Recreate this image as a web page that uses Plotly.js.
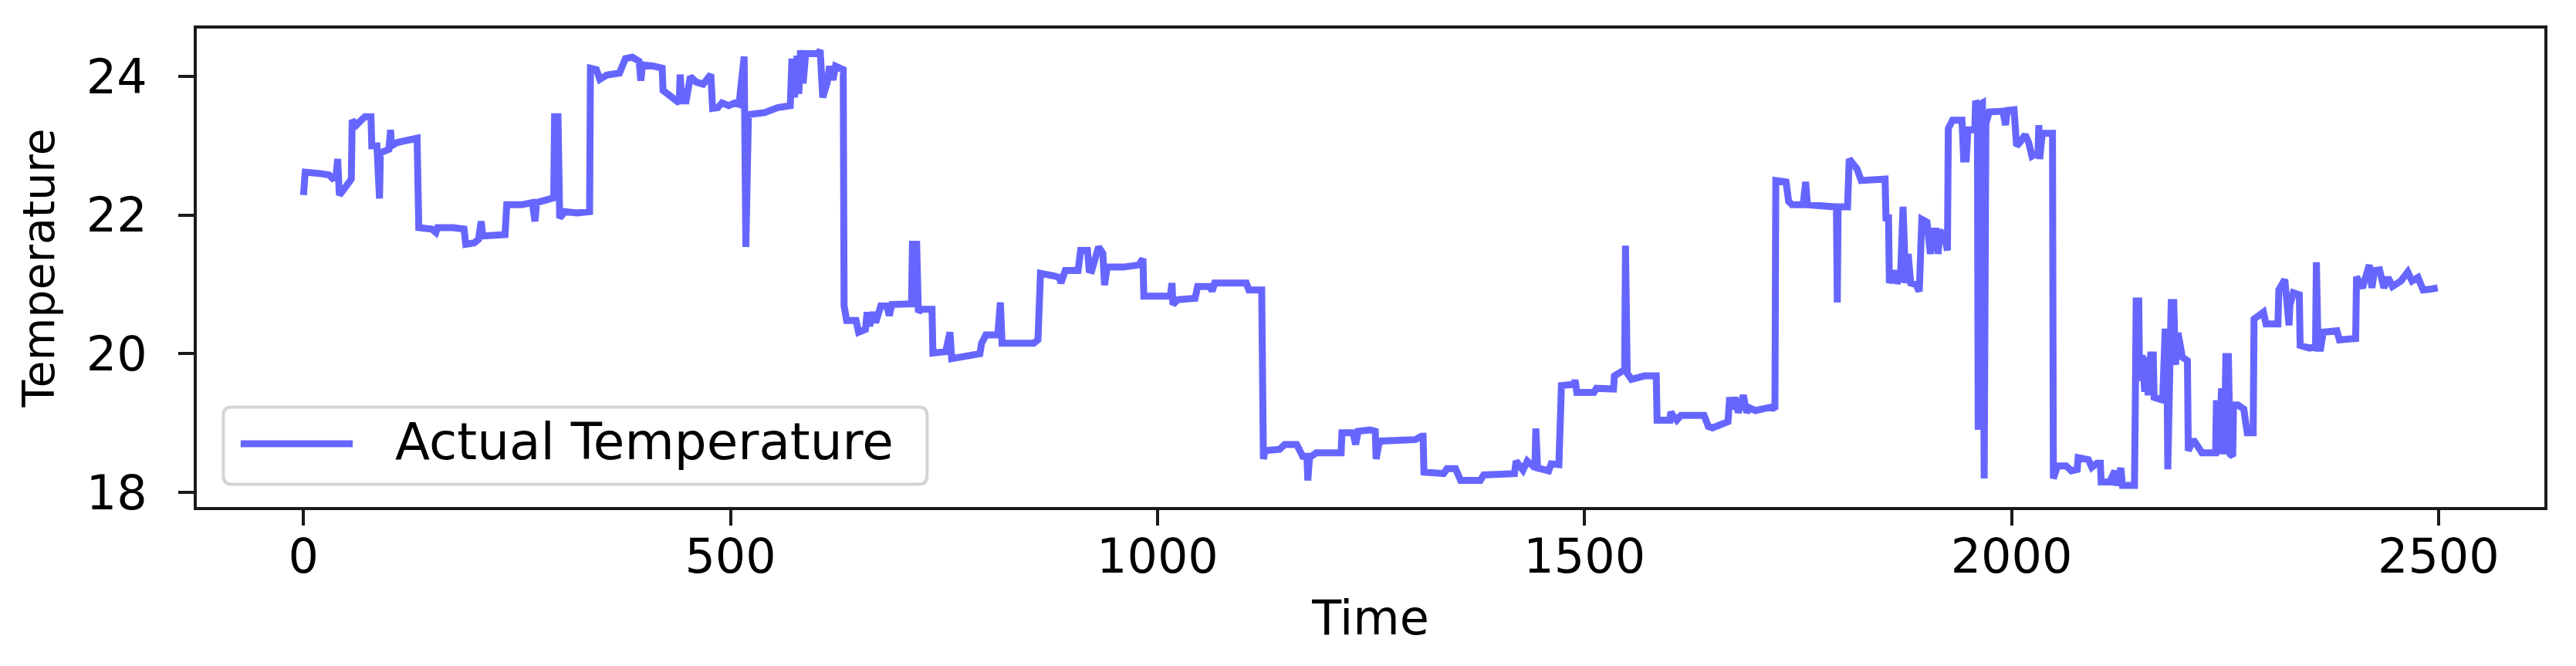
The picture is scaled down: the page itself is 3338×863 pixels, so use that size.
<!DOCTYPE html>
<html>
<head>
<meta charset="utf-8">
<script src="https://cdn.plot.ly/plotly-3.0.1.min.js"></script>
<style>
  html, body { margin: 0; padding: 0; background: #fff; }
</style>
</head>
<body>
<div id="chart"></div>
<script>
// values
const time = [
  0, 2, 20, 30, 34, 38, 40, 42, 46, 52, 56, 57, 62, 66, 72, 79, 80, 86, 87, 89, 90, 100, 102, 103, 110, 125, 133,
  135, 150, 155, 157, 175, 188, 190, 200, 205, 208, 210, 225, 236, 238, 255, 268, 271, 273, 285, 293, 294, 298, 300, 306, 320, 335,
  336, 343, 347, 355, 370, 377, 385, 393, 395, 397, 410, 420, 421, 430, 435, 440, 441, 443, 448, 453, 460, 468, 477, 479, 485, 490, 498,
  505, 510, 516, 518, 521, 540, 555, 570, 572, 575, 578, 580, 582, 585, 588, 602, 605, 608, 613, 616, 620, 623, 627, 632,
  633, 636, 647, 650, 658, 660, 663, 667, 670, 673, 676, 683, 686, 689, 712, 713, 718, 720, 723, 736, 737, 752, 755, 757, 759, 775, 792,
  794, 799, 813, 816, 818, 855, 860, 863, 880, 885, 887, 892, 907, 910, 918, 920, 923, 931, 936, 938, 941, 960, 978, 981, 983,
  984, 1015, 1017, 1018, 1024, 1044, 1047, 1062, 1064, 1067, 1104, 1107, 1122,
  1124, 1126, 1143, 1149, 1163, 1170, 1175, 1176, 1178, 1186, 1215, 1216, 1229, 1232, 1235, 1249, 1255, 1256, 1259, 1262, 1302, 1309, 1311,
  1312, 1335, 1339, 1349, 1355, 1378, 1382, 1418, 1420, 1428, 1433, 1442, 1443, 1445, 1458, 1461, 1470, 1471,
  1473, 1488, 1489, 1491, 1511, 1514, 1534, 1535, 1547, 1548, 1550, 1555, 1570, 1584,
  1585, 1600, 1601, 1604, 1608, 1613, 1640, 1645, 1650, 1668, 1670, 1673, 1676, 1680, 1686, 1690, 1693, 1700, 1719, 1723,
  1724, 1736, 1739, 1743, 1756, 1759, 1761, 1792, 1795, 1796, 1797, 1808, 1810, 1819, 1824, 1852, 1853, 1856,
  1857, 1862, 1866, 1870, 1873, 1876, 1879, 1882, 1888, 1892, 1895, 1901, 1905, 1908, 1912, 1914, 1916, 1921, 1925,
  1926, 1931, 1942, 1944, 1947, 1949, 1957, 1958, 1960, 1961, 1963, 1966, 1968, 1970, 1974, 1990, 1993, 1995, 2003,
  2006, 2010, 2016, 2020, 2024, 2031, 2032, 2033, 2036, 2048,
  2049, 2054, 2064, 2070, 2077, 2078, 2090, 2094, 2100, 2104, 2105, 2115, 2119, 2121, 2122, 2128, 2130, 2144,
  2145, 2146, 2149, 2150, 2153, 2156, 2158, 2160, 2163, 2166, 2167, 2177, 2180, 2182, 2183, 2186, 2187, 2190, 2192, 2195, 2197, 2200, 2206,
  2207, 2213, 2223, 2239, 2240, 2243, 2246, 2249, 2251, 2254, 2256, 2259, 2260, 2265, 2272, 2276, 2283,
  2284, 2290, 2295, 2298, 2312, 2313, 2320, 2325, 2326, 2330, 2337, 2338, 2349, 2356, 2357, 2359, 2362, 2365, 2381, 2384, 2403,
  2404, 2411, 2419, 2422, 2425, 2431, 2436, 2441, 2446, 2456, 2464, 2469, 2476, 2482, 2490, 2499
];
const temperature = [
  22.29, 22.62, 22.60, 22.58, 22.53, 22.55, 22.81, 22.29, 22.35, 22.48, 22.52, 23.37, 23.30, 23.35, 23.42, 23.42, 23.00, 23.00, 22.24, 22.24, 22.90, 22.95, 23.23, 23.00, 23.05, 23.08, 23.11,
  21.82, 21.80, 21.75, 21.82, 21.82, 21.80, 21.58, 21.60, 21.65, 21.91, 21.70, 21.70, 21.72, 22.15, 22.15, 22.18, 21.91, 22.18, 22.22, 22.25, 23.42, 23.42, 21.96, 22.05, 22.03, 22.05,
  24.12, 24.10, 23.96, 24.02, 24.05, 24.26, 24.28, 24.22, 23.94, 24.17, 24.15, 24.12, 23.80, 23.70, 23.65, 23.62, 24.03, 23.65, 23.65, 24.00, 23.92, 23.89, 24.03, 23.54, 23.55, 23.62, 23.58,
  23.62, 23.60, 24.29, 21.54, 23.45, 23.48, 23.55, 23.58, 24.26, 23.70, 24.30, 23.75, 24.38, 23.90, 24.33, 24.33, 24.38, 23.70, 23.90, 24.15, 23.95, 24.15, 24.12, 24.10,
  20.69, 20.48, 20.48, 20.31, 20.35, 20.60, 20.40, 20.60, 20.45, 20.62, 20.69, 20.69, 20.55, 20.71, 20.72, 21.58, 21.58, 20.60, 20.64, 20.64, 20.01, 20.03, 20.31, 20.31, 19.93, 19.96, 20.00,
  20.15, 20.27, 20.27, 20.74, 20.15, 20.15, 20.20, 21.16, 21.12, 21.10, 21.02, 21.20, 21.20, 21.49, 21.49, 21.21, 21.20, 21.54, 21.45, 20.99, 21.25, 21.25, 21.28, 21.37, 21.37,
  20.83, 20.83, 21.02, 20.71, 20.78, 20.80, 20.97, 20.97, 20.90, 21.02, 21.02, 20.92, 20.92,
  18.48, 18.60, 18.62, 18.69, 18.69, 18.52, 18.52, 18.17, 18.50, 18.57, 18.57, 18.86, 18.86, 18.69, 18.88, 18.90, 18.88, 18.48, 18.69, 18.74, 18.76, 18.81, 18.81,
  18.29, 18.27, 18.34, 18.34, 18.17, 18.17, 18.25, 18.27, 18.45, 18.32, 18.45, 18.35, 18.92, 18.35, 18.31, 18.41, 18.40, 18.90,
  19.54, 19.56, 19.62, 19.44, 19.44, 19.50, 19.49, 19.68, 19.77, 21.56, 19.72, 19.63, 19.68, 19.68,
  19.04, 19.04, 19.16, 19.10, 19.04, 19.11, 19.11, 18.95, 18.93, 19.02, 19.37, 19.20, 19.37, 19.15, 19.40, 19.15, 19.22, 19.18, 19.23, 19.20,
  22.50, 22.48, 22.20, 22.15, 22.15, 22.48, 22.15, 22.12, 22.10, 20.74, 22.12, 22.12, 22.81, 22.67, 22.50, 22.52, 21.96, 21.96,
  21.02, 21.20, 21.02, 21.10, 22.12, 21.02, 21.44, 21.02, 21.00, 20.90, 21.94, 21.90, 21.44, 21.77, 21.77, 21.44, 21.77, 21.72, 21.49,
  23.25, 23.37, 23.37, 22.81, 22.81, 23.23, 23.23, 23.65, 23.60, 18.90, 23.60, 23.62, 18.20, 23.32, 23.49, 23.50, 23.30, 23.51, 23.52,
  23.00, 23.05, 23.16, 23.05, 22.85, 22.90, 23.30, 22.81, 23.18, 23.18,
  18.20, 18.38, 18.38, 18.31, 18.33, 18.50, 18.47, 18.36, 18.42, 18.42, 18.15, 18.15, 18.30, 18.31, 18.10, 18.35, 18.10, 18.10,
  19.33, 20.76, 20.76, 19.61, 19.98, 19.45, 19.95, 19.40, 19.98, 19.98, 19.37, 19.33, 20.36, 20.00, 18.33, 20.00, 20.74, 20.74, 19.84, 20.30, 20.20, 19.95, 19.90,
  18.60, 18.76, 18.57, 18.57, 19.33, 18.55, 19.50, 18.55, 19.96, 19.96, 18.55, 18.52, 19.26, 19.26, 19.20, 18.86, 18.86,
  20.50, 20.55, 20.60, 20.43, 20.43, 20.92, 21.07, 20.41, 20.70, 20.88, 20.85, 20.12, 20.08, 20.10, 21.32, 20.08, 20.08, 20.31, 20.33, 20.20, 20.22,
  21.11, 20.95, 21.28, 20.95, 21.20, 21.21, 20.95, 21.10, 20.97, 21.05, 21.18, 21.05, 21.10, 20.92, 20.93, 20.95
];
const xTicks = [0, 500, 1000, 1500, 2000, 2500];
const yTicks = [18, 20, 22, 24];
const seriesName = 'Actual Temperature';

const lineColor = 'rgb(102,102,255)';
const axisColor = '#1a1a1a';
const fontFamily = 'DejaVu Sans';

const trace = {
    x: time,
    y: temperature,
    type: 'scatter',
    mode: 'lines',
    name: seriesName,
    line: { color: lineColor, width: 9 },
    showlegend: false
};

const axisCommon = {
    ticks: 'outside',
    ticklen: 20,
    tickwidth: 4,
    tickcolor: axisColor,
    tickfont: { family: fontFamily, size: 62, color: '#000' },
    showline: true,
    linecolor: axisColor,
    linewidth: 4,
    mirror: true,
    showgrid: false,
    zeroline: false,
    automargin: false
};

// legend box drawn by hand (matplotlib style, rounded corners)
const boxPath = 'M -445,-50 L 445,-50 Q 456,-50 456,-39 L 456,39 Q 456,50 445,50 ' +
    'L -445,50 Q -456,50 -456,39 L -456,-39 Q -456,-50 -445,-50 Z';

const layout = {
    width: 3338,
    height: 863,
    margin: { l: 255, r: 41, t: 37, b: 206 },
    paper_bgcolor: '#fff',
    plot_bgcolor: '#fff',
    font: { family: fontFamily, size: 62, color: '#000' },
    showlegend: false,
    xaxis: Object.assign({}, axisCommon, {
        range: [-124.95, 2623.95],
        tickvals: xTicks,
        ticklabelstandoff: -13,
        title: { text: 'Time', standoff: 23, font: { family: fontFamily, size: 62, color: '#000' } }
    }),
    yaxis: Object.assign({}, axisCommon, {
        range: [17.787, 24.693],
        tickvals: yTicks,
        ticklabelstandoff: 28,
        title: { text: 'Temperature', standoff: 24, font: { family: fontFamily, size: 57, color: '#000' } }
    }),
    shapes: [
        {
            type: 'path', xref: 'paper', yref: 'paper',
            xsizemode: 'pixel', ysizemode: 'pixel',
            xanchor: 0.1612, yanchor: 0.1282,
            path: boxPath,
            fillcolor: '#fff',
            line: { color: '#d4d4d4', width: 4 },
            layer: 'above'
        },
        {
            type: 'line', xref: 'paper', yref: 'paper',
            x0: 0.0187, x1: 0.0664, y0: 0.1323, y1: 0.1323,
            line: { color: lineColor, width: 9 },
            layer: 'above'
        }
    ],
    annotations: [
        {
            xref: 'paper', yref: 'paper',
            x: 0.0838, y: 0.1355,
            xanchor: 'left', yanchor: 'middle',
            text: seriesName,
            showarrow: false,
            font: { family: fontFamily, size: 66, color: '#000' }
        }
    ]
};

Plotly.newPlot('chart', [trace], layout, { displayModeBar: false, staticPlot: true });
</script>
</body>
</html>
